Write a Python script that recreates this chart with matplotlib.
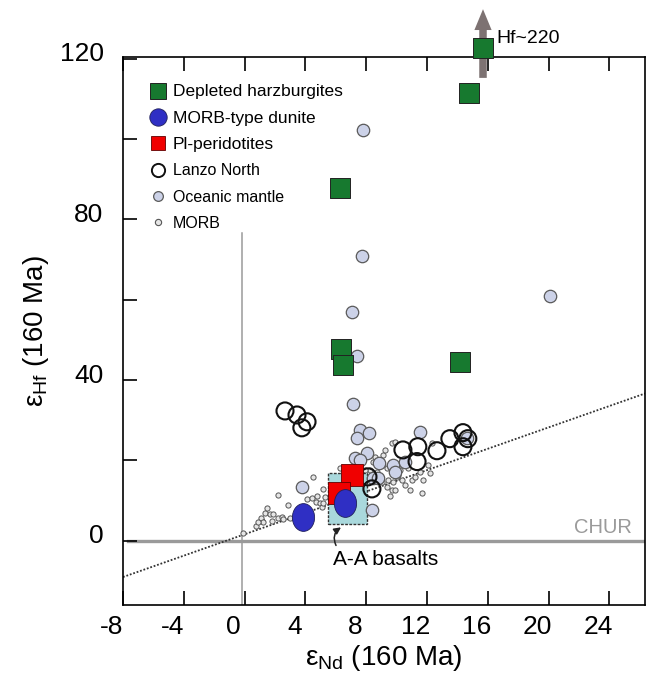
import matplotlib
matplotlib.use("Agg")
import matplotlib.pyplot as plt
from matplotlib.lines import Line2D
from matplotlib.patches import Rectangle
from matplotlib.path import Path
from matplotlib.transforms import Affine2D, ScaledTranslation
import numpy as np

plt.rcParams['font.family'] = ['Liberation Sans', 'DejaVu Sans']
plt.rcParams['mathtext.fontset'] = 'custom'
plt.rcParams['mathtext.rm'] = 'Liberation Sans'
plt.rcParams['mathtext.it'] = 'Liberation Sans'

# ---------------- data ----------------
harz_nd = [15.69, 14.76, 6.28, 6.34, 6.47, 14.17]
harz_hf = [122.6, 111.4, 87.8, 47.8, 43.8, 44.5]

dunite_nd = [3.84, 6.60]
dunite_hf = [6.0, 9.45]

plper_nd = [7.06, 6.21]
plper_hf = [16.4, 11.9]

lanzo_nd = [2.66, 3.45, 4.11, 3.77, 10.42, 11.40, 11.35, 12.66, 13.51, 14.37,
            14.37, 14.69, 8.12, 8.38]
lanzo_hf = [32.3, 31.3, 29.6, 28.1, 22.6, 23.4, 19.7, 22.4, 25.4, 26.9,
            23.4, 25.4, 15.9, 12.9]

ocean_nd = [7.79, 7.72, 20.09, 7.40, 7.06, 7.13, 3.77, 7.59, 8.19, 7.40,
            8.05, 7.26, 7.59, 8.85, 9.76, 9.90, 11.54, 14.63, 8.38, 8.45,
            8.78, 10.55]
ocean_hf = [102.2, 70.9, 60.9, 46.0, 57.0, 34.1, 13.4, 27.6, 26.9, 25.6,
            21.9, 20.6, 20.1, 19.4, 18.9, 17.2, 27.1, 25.6, 7.7, 15.7,
            15.7, 19.7]

morb_nd = [-0.10, 0.75, 1.15, 1.08, 1.21, 1.34, 1.47, 1.67, 1.86, 1.81,
           2.20, 2.46, 2.52, 2.86, 2.20, 2.99, 4.11, 4.50, 4.43, 4.76,
           4.70, 4.96, 5.09, 5.15, 5.29, 5.15, 9.69, 9.90, 9.10, 8.58,
           8.45, 8.90, 9.37, 9.56, 10.22, 9.44, 9.76, 10.03, 10.35, 10.55,
           9.69, 9.56, 11.01, 11.21, 11.54, 11.74, 12.19, 12.33, 11.67, 8.24,
           8.71, 9.04, 9.37, 7.59, 10.35, 9.24, 10.10, 10.75, 9.90, 7.92,
           10.88, 12.06, 6.28, 0.88]
morb_hf = [2.0, 3.7, 5.0, 5.7, 4.7, 7.0, 8.2, 6.7, 6.7, 5.0,
           5.7, 6.0, 5.5, 9.0, 11.4, 5.7, 10.4, 15.9, 10.7, 11.2,
           9.7, 9.5, 8.5, 12.9, 10.9, 9.5, 24.4, 24.6, 21.4, 20.9,
           19.7, 18.9, 18.2, 18.9, 17.7, 15.2, 14.7, 15.9, 15.2, 13.9,
           12.7, 11.2, 15.2, 15.9, 17.2, 15.2, 16.9, 24.4, 11.9, 17.7,
           17.2, 14.7, 13.4, 10.2, 20.1, 22.6, 16.4, 18.2, 12.7, 17.7,
           12.7, 18.9, 18.2, 4.7]

# A-A basalts field (eNd range, eHf range)
aa_nd = [5.49, 8.05]
aa_hf = [4.2, 16.9]

# terrestrial array (dotted): eHf = slope * eNd + intercept
array_slope = 1.33
array_intercept = 1.6

x_ticks = [-8, -4, 0, 4, 8, 12, 16, 20, 24]
y_major = [0, 40, 80, 120]
y_minor = [20, 60, 100]

legend_labels = ['Depleted harzburgites', 'MORB-type dunite', 'Pl-peridotites',
                 'Lanzo North', 'Oceanic mantle', 'MORB']

# ---------------- figure ----------------
fig = plt.figure(figsize=(6.47, 6.76), dpi=100)
ax = fig.add_axes([123/647, 71/676, (645-123)/647, (605-57)/676])
ax.set_xlim(-8, 26.35)
ax.set_ylim(-16, 120.4)

green = '#17792f'
blue = '#2f2fc4'
red = '#f00000'
ocean_fc = '#ccd2e8'

ell = Path.unit_circle().transformed(Affine2D().scale(0.8, 1.0))

# reference lines
ax.axhline(0, xmin=0.01, color='#9a9a9a', lw=2.4, zorder=1)
ax.plot([-0.2, -0.2], [-16, 76.6], color='#9a9a9a', lw=1.1, zorder=1)
xs = np.array(ax.get_xlim())
ax.plot(xs, array_slope * xs + array_intercept, color='#333333', lw=1.3,
        linestyle=(0, (1, 1)), zorder=2)

ax.scatter(morb_nd, morb_hf, s=14, facecolor='#e6e6e6', edgecolor='#555555',
           lw=0.7, zorder=3)
ax.add_patch(Rectangle((aa_nd[0], aa_hf[0]), aa_nd[1]-aa_nd[0], aa_hf[1]-aa_hf[0],
                       facecolor='#a9d8dc', edgecolor='#333333', lw=1.0,
                       linestyle=(0, (2, 1)), zorder=3.5))
ax.scatter(ocean_nd, ocean_hf, s=80, facecolor=ocean_fc, edgecolor='#5a5a5a',
           lw=0.9, zorder=4)
ax.scatter(lanzo_nd, lanzo_hf, s=150, facecolor='none', edgecolor='#111111',
           lw=1.5, zorder=5)
ax.scatter(plper_nd, plper_hf, s=230, marker='s', facecolor=red,
           edgecolor='#600000', lw=0.6, zorder=6)
ax.scatter(dunite_nd, dunite_hf, s=400, marker=ell, facecolor=blue,
           edgecolor='#20205a', lw=0.6, zorder=7)

# arrow for off-scale harzburgite (Hf ~ 220)
ax.annotate('', xy=(harz_nd[0], 132.3), xytext=(harz_nd[0], 115.2),
            arrowprops=dict(arrowstyle='simple,head_length=0.75,head_width=0.62,tail_width=0.27',
                            color='#7d7272', lw=0, mutation_scale=20,
                            shrinkA=0, shrinkB=0),
            annotation_clip=False, zorder=7.5)
ax.scatter(harz_nd, harz_hf, s=210, marker='s', facecolor=green,
           edgecolor='#222222', lw=0.7, zorder=8, clip_on=False)
ax.text(16.6, 125.1, 'Hf~220', fontsize=14, va='center', ha='left')

ax.text(21.7, 3.4, 'CHUR', fontsize=14.5, color='#9a9a9a', va='center', ha='left')
ax.text(5.8, -4.6, 'A-A basalts', fontsize=15, va='center', ha='left')
ax.annotate('', xy=(6.5, 3.7), xytext=(6.1, -1.8),
            arrowprops=dict(arrowstyle='-|>,head_width=0.2,head_length=0.4',
                            connectionstyle='arc3,rad=-0.5', color='#222222', lw=1.1))

# axes styling
for sp in ax.spines.values():
    sp.set_linewidth(1.2)
ax.set_xticks(x_ticks)
ax.set_xticklabels([str(v) for v in x_ticks])
ax.set_yticks(y_major)
ax.set_yticklabels([str(v) for v in y_major])
ax.set_yticks(y_minor, minor=True)
ax.tick_params(axis='both', which='both', direction='in', length=10, width=1.2,
               labelsize=19, top=True, right=False)
ax.tick_params(axis='x', pad=7)
ax.tick_params(axis='y', pad=14)

xoff = ScaledTranslation(-11/100, 0, fig.dpi_scale_trans)
for lab in ax.get_xticklabels():
    lab.set_transform(lab.get_transform() + xoff)
yoff = ScaledTranslation(0, 7/100, fig.dpi_scale_trans)
for lab in ax.get_yticklabels():
    lab.set_transform(lab.get_transform() + yoff)

ax.set_xlabel(r'$\mathregular{\varepsilon_{Nd}}$ (160 Ma)', fontsize=20, labelpad=3)
ax.set_ylabel(r'$\mathregular{\varepsilon_{Hf}}$ (160 Ma)', fontsize=20, labelpad=6)

# legend
handles = [
    Line2D([], [], ls='none', marker='s', ms=11, mfc=green, mec='#222222', mew=0.7),
    Line2D([], [], ls='none', marker='o', ms=12.5, mfc=blue, mec='#20205a', mew=0.6),
    Line2D([], [], ls='none', marker='s', ms=10, mfc=red, mec='#600000', mew=0.6),
    Line2D([], [], ls='none', marker='o', ms=9.5, mfc='none', mec='#111111', mew=1.4),
    Line2D([], [], ls='none', marker='o', ms=7, mfc=ocean_fc, mec='#5a5a5a', mew=0.9),
    Line2D([], [], ls='none', marker='o', ms=4.5, mfc='#e6e6e6', mec='#555555', mew=0.8),
]
leg = ax.legend(handles, legend_labels, loc='upper left', frameon=False,
                fontsize=12, handletextpad=0.3, labelspacing=0.68,
                borderaxespad=0.0, bbox_to_anchor=(0.035, 0.962), handlelength=1.2)
for i, t in enumerate(leg.get_texts()):
    t.set_fontsize(12.5 if i < 3 else 11.5)

fig.savefig('out.png', dpi=100)
